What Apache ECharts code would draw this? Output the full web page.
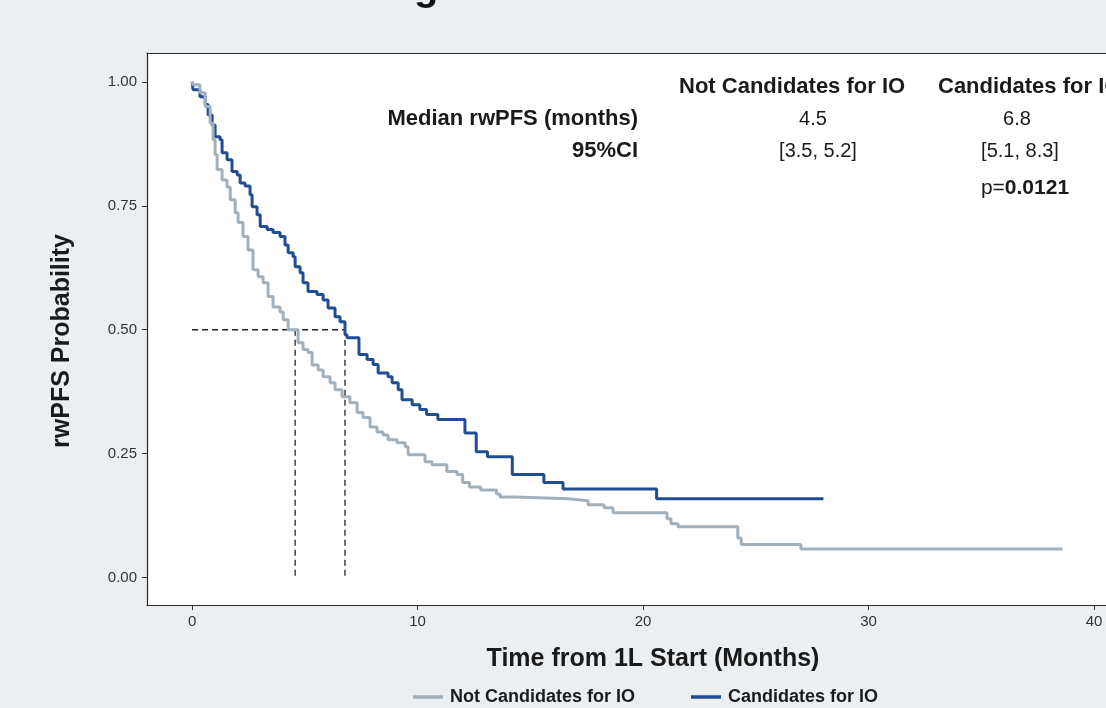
<!DOCTYPE html>
<html>
<head>
<meta charset="utf-8">
<script src="https://cdn.jsdelivr.net/npm/echarts@6/dist/echarts.min.js"></script>
<style>
html,body{margin:0;padding:0;background:#eceff2;}
#main{width:1106px;height:708px;}
</style>
</head>
<body>
<div id="main"></div>
<script>
// ---- Data ----
const seriesNames = ['Not Candidates for IO', 'Candidates for IO'];

const candTime = [0, 0.04, 0.35, 0.58, 0.71, 0.89, 1.02, 1.24, 1.33, 1.55, 1.77, 2.0, 2.13, 2.35, 2.57, 2.66, 2.88, 3.02, 3.33, 3.59, 3.90, 4.12, 4.26, 4.48, 4.57, 4.79, 4.92, 5.14, 5.54, 5.81, 6.03, 6.34, 6.56, 6.78, 6.87, 7.4, 7.76, 8.03, 8.25, 8.69, 8.87, 9.14, 9.31, 9.76, 10.1, 10.4, 10.9, 12.1, 12.6, 13.1, 14.2, 15.6, 16.45, 20.6, 28.0];
const candSurv = [1.0, 0.984, 0.970, 0.954, 0.933, 0.913, 0.889, 0.883, 0.857, 0.843, 0.819, 0.812, 0.796, 0.790, 0.772, 0.748, 0.732, 0.708, 0.702, 0.696, 0.688, 0.671, 0.655, 0.647, 0.627, 0.615, 0.595, 0.577, 0.571, 0.560, 0.544, 0.526, 0.516, 0.490, 0.484, 0.450, 0.440, 0.430, 0.413, 0.405, 0.393, 0.379, 0.359, 0.349, 0.339, 0.329, 0.319, 0.292, 0.254, 0.244, 0.208, 0.192, 0.179, 0.159, 0.159];

const notTime = [0, 0.04, 0.35, 0.58, 0.8, 0.93, 1.02, 1.11, 1.33, 1.55, 1.69, 1.91, 2.04, 2.26, 2.48, 2.70, 2.93, 3.15, 3.37, 3.59, 3.90, 4.04, 4.26, 4.70, 4.92, 5.14, 5.32, 5.59, 5.81, 6.12, 6.34, 6.65, 7.0, 7.32, 7.58, 7.89, 8.2, 8.47, 8.69, 9.09, 9.45, 9.58, 10.33, 10.64, 11.3, 11.75, 12.0, 12.3, 12.8, 13.5, 13.66, 14.3, 16.7, 17.56, 18.27, 18.67, 21.06, 21.24, 21.55, 24.2, 24.35, 27.0, 38.6];
const notSurv = [1.0, 0.994, 0.978, 0.950, 0.917, 0.883, 0.853, 0.823, 0.802, 0.788, 0.762, 0.736, 0.716, 0.688, 0.661, 0.621, 0.607, 0.595, 0.567, 0.546, 0.536, 0.520, 0.500, 0.474, 0.460, 0.454, 0.429, 0.419, 0.405, 0.393, 0.379, 0.365, 0.353, 0.333, 0.323, 0.304, 0.294, 0.288, 0.278, 0.272, 0.264, 0.248, 0.234, 0.228, 0.214, 0.208, 0.192, 0.183, 0.177, 0.169, 0.163, 0.159, 0.155, 0.147, 0.141, 0.131, 0.119, 0.109, 0.103, 0.080, 0.067, 0.058, 0.058];

const medianLineX = [4.57, 6.78];   // where the dashed median lines drop
const medianLevel = 0.5;

const xTicks = [0, 10, 20, 30, 40];
const yTicks = [0, 0.25, 0.5, 0.75, 1.0];

const tableHeader = ['Not Candidates for IO', 'Candidates for IO'];
const tableRows = ['Median rwPFS (months)', '95%CI'];
const medians = ['4.5', '6.8'];
const ci = ['[3.5, 5.2]', '[5.1, 8.3]'];
const pValue = '0.0121';

// ---- Build ----
const colors = { not: '#a2b0bc', cand: '#1f4e94' };
const FONT = '"Liberation Sans", Arial, Helvetica, sans-serif';
const zip = (a, b) => a.map((v, i) => [v, b[i]]);
const AX = '#2b2b2b';

const chart = echarts.init(document.getElementById('main'), null, { renderer: 'canvas' });

const option = {
  backgroundColor: '#eceff2',
  animation: false,
  textStyle: { fontFamily: FONT },
  grid: {
    left: 147, top: 53, right: 0, bottom: 103,
    show: true, backgroundColor: '#ffffff', borderWidth: 0,
    containLabel: false
  },
  xAxis: [{
    type: 'value', min: -2, max: 40.53,
    axisLine: { show: true, onZero: false, lineStyle: { color: AX, width: 1.2 } },
    splitLine: { show: false },
    axisTick: { show: true, length: 5, lineStyle: { color: '#333', width: 1 }, customValues: xTicks },
    axisLabel: { color: '#333', fontSize: 15, fontFamily: FONT, margin: 9, customValues: xTicks,
      formatter: v => String(v) }
  }, {
    type: 'value', position: 'top', min: -2, max: 40.53,
    axisLine: { show: true, onZero: false, lineStyle: { color: AX, width: 1.2 } },
    axisTick: { show: false }, axisLabel: { show: false }, splitLine: { show: false }
  }],
  yAxis: {
    type: 'value', min: -0.055, max: 1.058,
    axisLine: { show: true, onZero: false, lineStyle: { color: AX, width: 1.2 } },
    splitLine: { show: false },
    axisTick: { show: true, length: 5, lineStyle: { color: '#333', width: 1 }, customValues: yTicks },
    axisLabel: { color: '#333', fontSize: 15, fontFamily: FONT, margin: 10, customValues: yTicks,
      formatter: v => v.toFixed(2) }
  },
  legend: {
    data: seriesNames.map(n => ({ name: n, icon: 'rect' })),
    left: 408, top: 683,
    itemWidth: 30, itemHeight: 3.5, itemGap: 56,
    textStyle: { fontSize: 18, fontWeight: 'bold', color: '#1a1a1a', fontFamily: FONT, padding: [0, 0, 0, 2] }
  },
  series: [
    {
      name: 'medianH', type: 'line', silent: true, symbol: 'none',
      data: [[0, medianLevel], [medianLineX[1], medianLevel]],
      lineStyle: { color: '#222', width: 1.3, type: [6, 4] }, z: 1
    },
    {
      name: 'medianV1', type: 'line', silent: true, symbol: 'none',
      data: [[medianLineX[0], medianLevel], [medianLineX[0], 0]],
      lineStyle: { color: '#222', width: 1.3, type: [6, 4] }, z: 1
    },
    {
      name: 'medianV2', type: 'line', silent: true, symbol: 'none',
      data: [[medianLineX[1], medianLevel], [medianLineX[1], 0]],
      lineStyle: { color: '#222', width: 1.3, type: [6, 4] }, z: 1
    },
    {
      name: seriesNames[1], type: 'line', step: 'end', symbol: 'none',
      data: zip(candTime, candSurv),
      itemStyle: { color: colors.cand },
      lineStyle: { color: colors.cand, width: 3 }, z: 3
    },
    {
      name: seriesNames[0], type: 'line', step: 'end', symbol: 'none',
      data: zip(notTime, notSurv),
      itemStyle: { color: colors.not },
      lineStyle: { color: colors.not, width: 3 }, z: 4
    }
  ],
  graphic: [
    // cut-off title descender
    { type: 'text', left: 414, top: -31, style: { text: 'g', font: 'bold 40px ' + FONT, fill: '#111' } },
    // axis titles
    { type: 'text', x: 62, y: 341, rotation: Math.PI / 2,
      style: { text: 'rwPFS Probability', font: 'bold 25px ' + FONT, fill: '#1a1a1a', align: 'center', verticalAlign: 'middle' } },
    { type: 'text', x: 653, y: 659,
      style: { text: 'Time from 1L Start (Months)', font: 'bold 25px ' + FONT, fill: '#1a1a1a', align: 'center', verticalAlign: 'middle' } },
    // table
    { type: 'text', x: 679, y: 87, z: 10,
      style: { text: tableHeader[0], font: 'bold 22px ' + FONT, fill: '#1a1a1a', align: 'left', verticalAlign: 'middle' } },
    { type: 'text', x: 938, y: 87, z: 10,
      style: { text: tableHeader[1], font: 'bold 22px ' + FONT, fill: '#1a1a1a', align: 'left', verticalAlign: 'middle' } },
    { type: 'text', x: 638, y: 119, z: 10,
      style: { text: tableRows[0], font: 'bold 22px ' + FONT, fill: '#1a1a1a', align: 'right', verticalAlign: 'middle' } },
    { type: 'text', x: 638, y: 151, z: 10,
      style: { text: tableRows[1], font: 'bold 22px ' + FONT, fill: '#1a1a1a', align: 'right', verticalAlign: 'middle' } },
    { type: 'text', x: 813, y: 119, z: 10,
      style: { text: medians[0], font: '20px ' + FONT, fill: '#1a1a1a', align: 'center', verticalAlign: 'middle' } },
    { type: 'text', x: 818, y: 151, z: 10,
      style: { text: ci[0], font: '20px ' + FONT, fill: '#1a1a1a', align: 'center', verticalAlign: 'middle' } },
    { type: 'text', x: 1017, y: 119, z: 10,
      style: { text: medians[1], font: '20px ' + FONT, fill: '#1a1a1a', align: 'center', verticalAlign: 'middle' } },
    { type: 'text', x: 1020, y: 151, z: 10,
      style: { text: ci[1], font: '20px ' + FONT, fill: '#1a1a1a', align: 'center', verticalAlign: 'middle' } },
    { type: 'text', x: 1025, y: 188, z: 10,
      style: {
        text: '{r|p=}{b|' + pValue + '}', align: 'center', verticalAlign: 'middle',
        rich: {
          r: { font: '21px ' + FONT, fill: '#1a1a1a' },
          b: { font: 'bold 21px ' + FONT, fill: '#1a1a1a' }
        }
      } }
  ]
};
chart.setOption(option);
</script>
</body>
</html>
